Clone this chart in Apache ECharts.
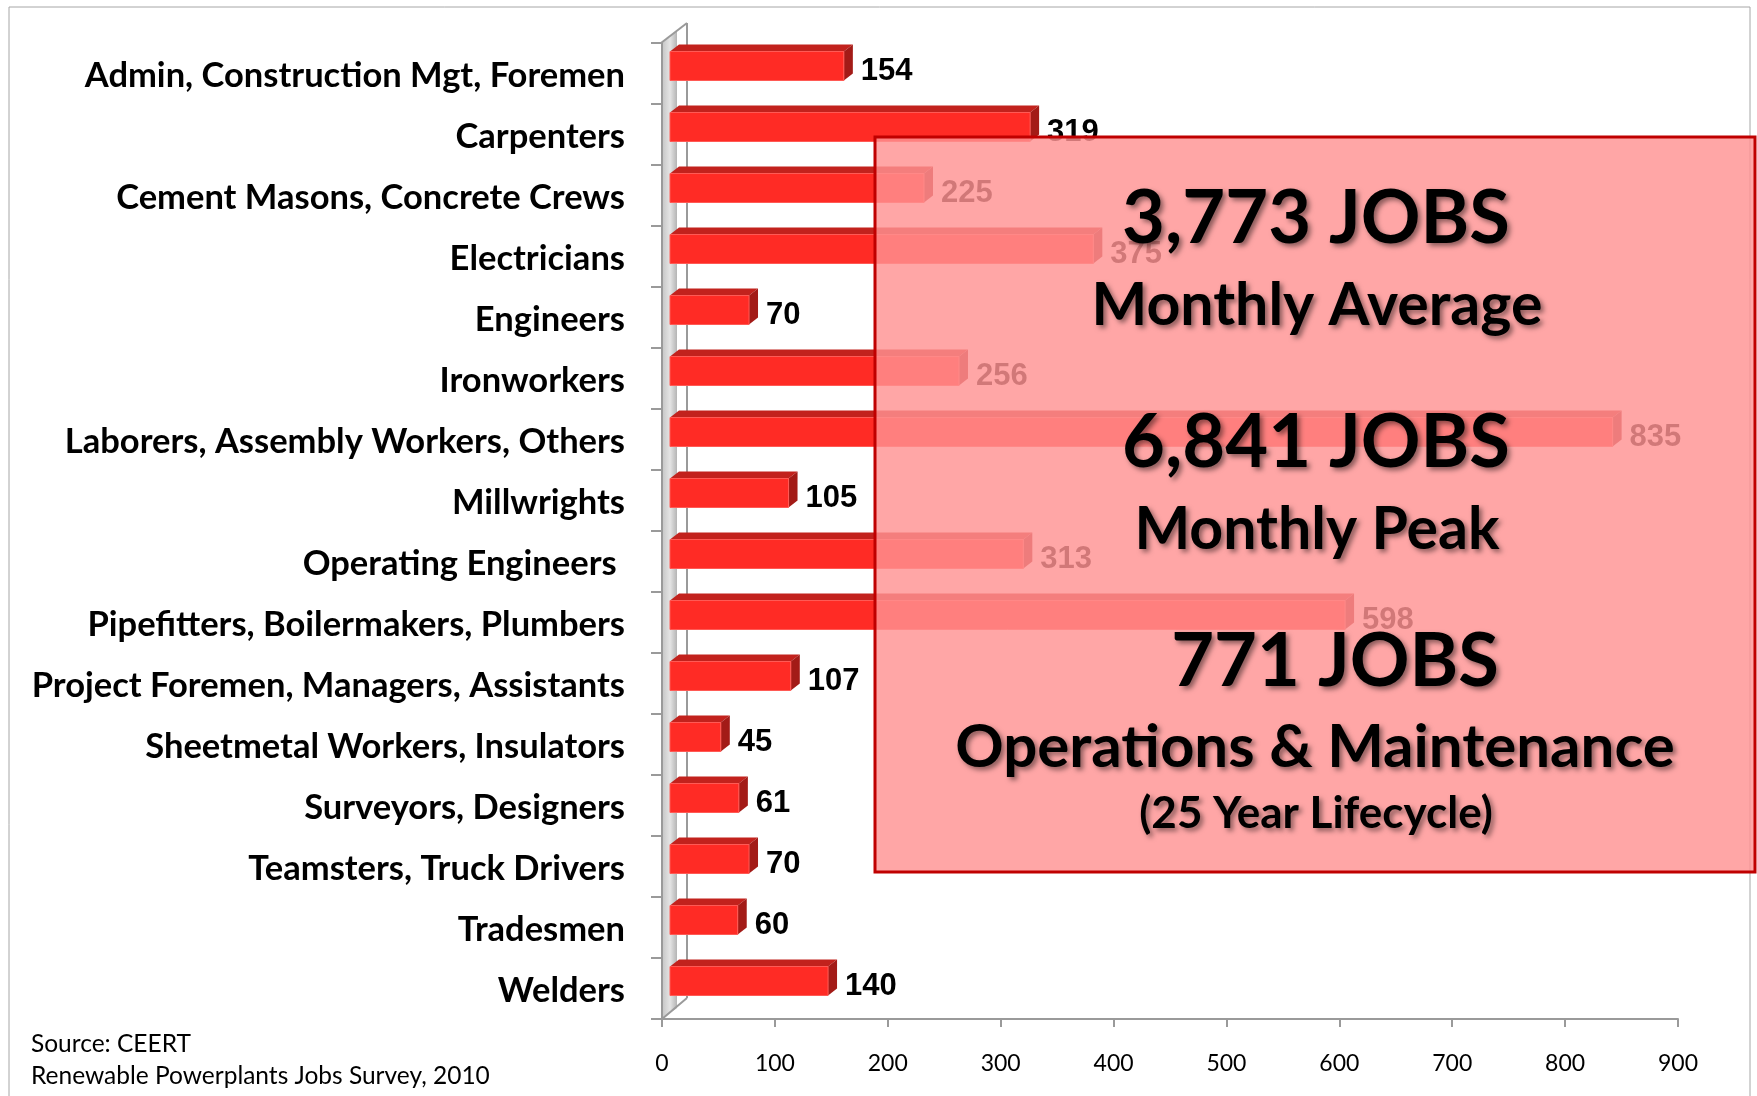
<!DOCTYPE html>
<html>
<head>
<meta charset="utf-8">
<script src="https://cdn.jsdelivr.net/npm/echarts@6/dist/echarts.min.js"></script>
<style>
html,body{margin:0;padding:0;background:#fff;}
#c{width:1757px;height:1096px;}
</style>
</head>
<body>
<div id="c"></div>
<script>
var categories = [
  "Admin, Construction Mgt, Foremen",
  "Carpenters",
  "Cement Masons, Concrete Crews",
  "Electricians",
  "Engineers",
  "Ironworkers",
  "Laborers, Assembly Workers, Others",
  "Millwrights",
  "Operating Engineers ",
  "Pipefitters, Boilermakers, Plumbers",
  "Project Foremen, Managers, Assistants",
  "Sheetmetal Workers, Insulators",
  "Surveyors, Designers",
  "Teamsters, Truck Drivers",
  "Tradesmen",
  "Welders"
];
var jobs = [154, 319, 225, 375, 70, 256, 835, 105, 313, 598, 107, 45, 61, 70, 60, 140];
var xTicks = [0, 100, 200, 300, 400, 500, 600, 700, 800, 900];

var boxLines = [
  {text: "3,773 JOBS", size: 74, y: 219, x: 1316},
  {text: "Monthly Average", size: 59, y: 306, x: 1317},
  {text: "6,841 JOBS", size: 74, y: 443, x: 1316},
  {text: "Monthly Peak", size: 59, y: 530, x: 1317},
  {text: "771 JOBS", size: 74, y: 662, x: 1335},
  {text: "Operations & Maintenance", size: 60, y: 748, x: 1315},
  {text: "(25 Year Lifecycle)", size: 44, y: 814, x: 1316}
];
var sourceLines = ["Source: CEERT", "Renewable Powerplants Jobs Survey, 2010"];

var chart = echarts.init(document.getElementById('c'), null, {renderer: 'canvas'});

var seriesData = jobs.map(function (v, i) { return [v, i]; });

function renderBar(params, api) {
  var v = api.value(0);
  var idx = api.value(1);
  var p0 = api.coord([0, idx]);
  var p1 = api.coord([v, idx]);
  var band = api.size([0, 1])[1];
  var c = p0[1];
  var sx = 8, dx = 9, dy = 7;
  var x0 = p0[0] + sx, x1 = p1[0] + sx;
  var ft = c - band * 0.36, fb = c + band * 0.115;
  return {
    type: 'group',
    children: [
      {type: 'polygon', shape: {points: [[x0, ft], [x1, ft], [x1 + dx, ft - dy], [x0 + dx, ft - dy]]},
        style: {fill: '#c2221d'}},
      {type: 'polygon', shape: {points: [[x1, ft], [x1 + dx, ft - dy], [x1 + dx, fb - dy], [x1, fb]]},
        style: {fill: '#a31b17'}},
      {type: 'rect', shape: {x: x0, y: ft, width: x1 - x0, height: fb - ft},
        style: {fill: '#ff2b25', stroke: '#ff5a55', lineWidth: 1}},
      {type: 'text', x: x1 + dx + 8, y: (ft + fb) / 2 + 5,
        style: {text: String(v), fill: '#000', font: 'bold 31px "Liberation Sans", Arial, sans-serif',
          verticalAlign: 'middle', align: 'left'}}
    ]
  };
}

var graphics = [
  {type: 'rect', shape: {x: 9, y: 7, width: 1741, height: 1100}, style: {fill: 'none', stroke: '#a6a6a6', lineWidth: 1}, z: 0, silent: true},
  {type: 'polygon', shape: {points: [[663, 42], [677, 31], [677, 1008], [663, 1018]]},
    style: {fill: new echarts.graphic.LinearGradient(0, 0, 1, 0, [{offset: 0, color: '#c9c9c9'}, {offset: 0.5, color: '#e4e4e4'}, {offset: 1, color: '#b4b4b4'}])}, z: 1, silent: true},
  {type: 'line', shape: {x1: 661, y1: 43, x2: 687, y2: 23}, style: {stroke: '#9a9a9a', lineWidth: 2}, z: 2, silent: true},
  {type: 'line', shape: {x1: 687, y1: 23, x2: 687, y2: 998}, style: {stroke: '#9a9a9a', lineWidth: 2}, z: 2, silent: true},
  {type: 'line', shape: {x1: 662, y1: 1019, x2: 687, y2: 998}, style: {stroke: '#9a9a9a', lineWidth: 2}, z: 2, silent: true},
  {type: 'rect', shape: {x: 875, y: 137, width: 880, height: 735},
    style: {fill: 'rgba(255,147,147,0.82)', stroke: '#c00000', lineWidth: 3}, z: 100, silent: true}
];
boxLines.forEach(function (l) {
  graphics.push({type: 'text', x: l.x, y: l.y, z: 101, silent: true,
    style: {text: l.text, fill: '#000', font: 'bold ' + l.size + 'px Lato, sans-serif',
      align: 'center', verticalAlign: 'middle',
      textShadowColor: 'rgba(0,0,0,0.45)', textShadowBlur: 5, textShadowOffsetX: 3, textShadowOffsetY: 3}});
});
sourceLines.forEach(function (s, i) {
  graphics.push({type: 'text', x: 31, y: 1044 + i * 32, z: 5, silent: true,
    style: {text: s, fill: '#000', font: '24.5px Lato, sans-serif', align: 'left', verticalAlign: 'middle'}});
});

chart.setOption({
  animation: false,
  backgroundColor: '#ffffff',
  grid: {left: 662, right: 79, top: 43, bottom: 77, containLabel: false},
  xAxis: {
    type: 'value', min: xTicks[0], max: xTicks[xTicks.length - 1], interval: 100,
    axisLine: {show: true, lineStyle: {color: '#9a9a9a', width: 2}},
    axisTick: {show: true, length: 8, lineStyle: {color: '#9a9a9a', width: 2}},
    splitLine: {show: false},
    axisLabel: {color: '#000', fontFamily: 'Lato, sans-serif', fontSize: 23, margin: 33}
  },
  yAxis: {
    type: 'category', data: categories, inverse: true,
    axisLine: {show: true, lineStyle: {color: '#9a9a9a', width: 2}},
    axisTick: {show: true, length: 11, lineStyle: {color: '#9a9a9a', width: 2}},
    axisLabel: {
      margin: 37,
      formatter: function (v) { return '{a|' + v + '}'; },
      rich: {a: {color: '#000', fontFamily: 'Lato, sans-serif', fontWeight: 'bold', fontSize: 34.5,
        padding: [5, 0, 0, 0]}}
    }
  },
  graphic: graphics,
  series: [{
    type: 'custom',
    renderItem: renderBar,
    data: seriesData,
    encode: {x: 0, y: 1},
    clip: false,
    z: 10
  }]
});
</script>
</body>
</html>
